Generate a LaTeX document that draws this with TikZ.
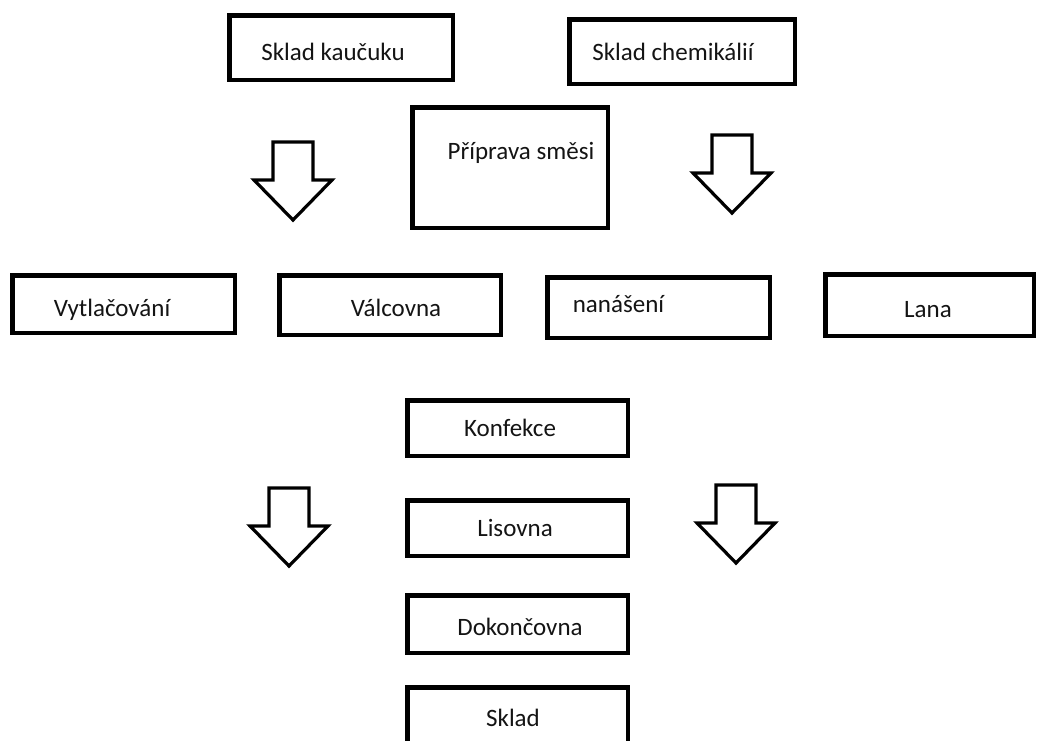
\documentclass[tikz,border=0pt]{standalone}
\usepackage{fontspec}
\setmainfont{Carlito}
\begin{document}
\begin{tikzpicture}[x=1pt,y=-1pt,
  box/.style={draw=black, line width=4.5pt, inner sep=0pt, fill=white},
  txt/.style={font=\fontsize{25}{29}\selectfont, text=black!92, inner sep=0pt},
  blockarrow/.style={draw=black, line width=3.2pt, line join=miter, fill=white},
  pics/downarrow/.style={code={
    \draw[blockarrow] (-20,0) -- (20,0) -- (20,38) -- (39,38) -- (0,78) -- (-39,38) -- (-20,38) -- cycle;}}]
\useasboundingbox (0,0) rectangle (1038,740);
\clip (0,0) rectangle (1038,740);
% top row
\node[box, minimum width=223.5pt, minimum height=64.5pt,
  label={[txt,xshift=-8pt,yshift=-4.5pt]center:Sklad kaučuku}] (kauc) at (341,47.5) {};
\node[box, minimum width=225.5pt, minimum height=64.5pt,
  label={[txt,xshift=-9pt,yshift=-0.5pt]center:Sklad chemikálií}] (chem) at (682,51.5) {};
\node[box, minimum width=195.5pt, minimum height=120.5pt,
  label={[txt,xshift=11pt,yshift=14.5pt]center:Příprava směsi}] (pripr) at (510,167.5) {};
% block arrows
\pic at (293,142) {downarrow};
\pic at (732,135) {downarrow};
\pic at (289,488) {downarrow};
\pic at (736,485) {downarrow};
% second row
\node[box, minimum width=222.5pt, minimum height=57.5pt,
  label={[txt,xshift=-11.5pt,yshift=-6pt]center:Vytlačování}] (vytl) at (123.5,304) {};
\node[box, minimum width=221.5pt, minimum height=59.5pt,
  label={[txt,xshift=6pt,yshift=-3pt]center:Válcovna}] (valc) at (390,305) {};
\node[box, minimum width=222.5pt, minimum height=60.5pt,
  label={[txt,xshift=-40pt,yshift=3.5pt]center:nanášení}] (nanas) at (658.5,307.5) {};
\node[box, minimum width=208.5pt, minimum height=61.5pt,
  label={[txt,xshift=-1.5pt,yshift=-5pt]center:Lana}] (lana) at (929.5,305) {};
% center column
\node[box, minimum width=220.5pt, minimum height=55.5pt,
  label={[txt,xshift=-7.5pt]center:Konfekce}] (konf) at (517.5,428) {};
\node[box, minimum width=220.5pt, minimum height=55.5pt,
  label={[txt,xshift=-2.5pt]center:Lisovna}] (lis) at (517.5,528) {};
\node[box, minimum width=220.5pt, minimum height=57.5pt,
  label={[txt,xshift=2.5pt,yshift=-3pt]center:Dokončovna}] (dok) at (517.5,624) {};
\node[box, minimum width=220.5pt, minimum height=70.5pt,
  label={[txt,xshift=-4.5pt,yshift=4.5pt]center:Sklad}] (sklad) at (517.5,722.5) {};
\end{tikzpicture}
\end{document}
